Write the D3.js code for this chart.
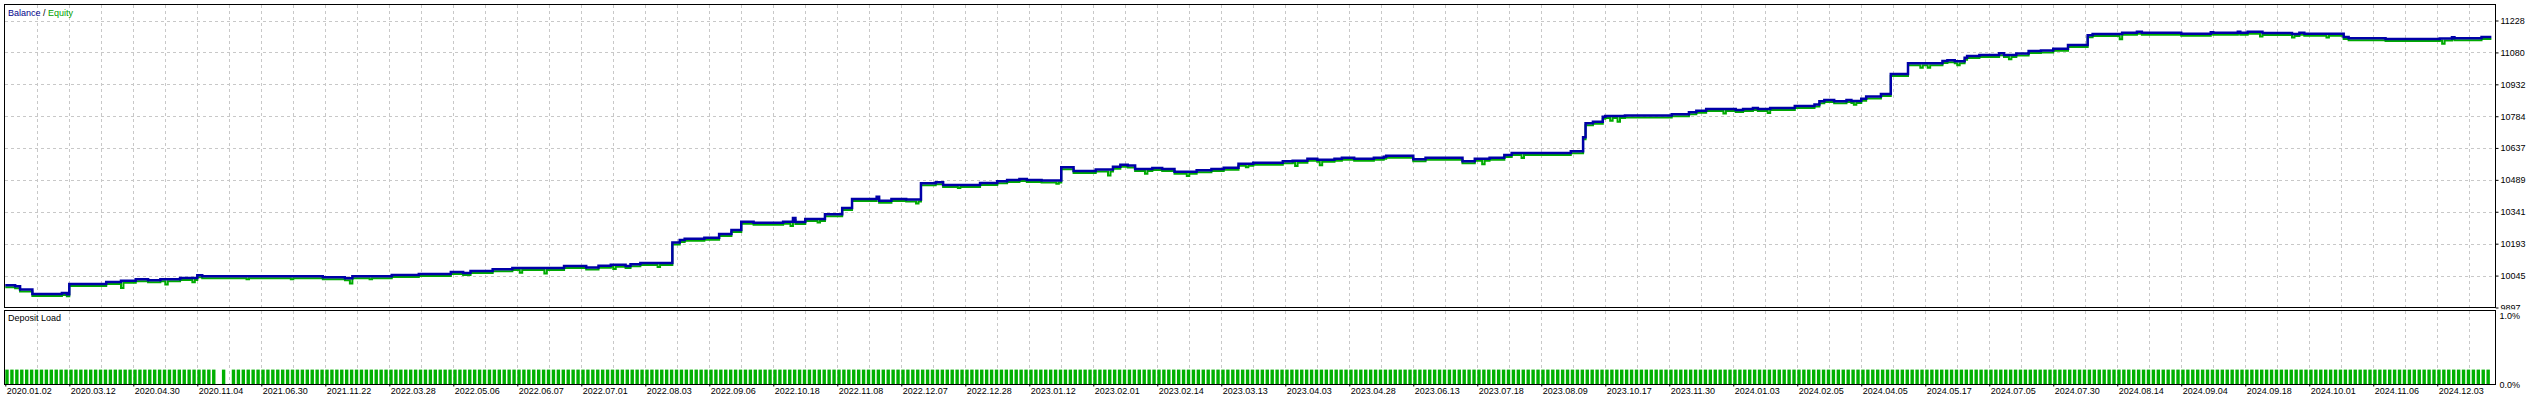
<!DOCTYPE html>
<html>
<head>
<meta charset="utf-8">
<script src="https://cdn.jsdelivr.net/npm/d3@7"></script>
<style>
  body { margin: 0; background: #fff; }
  svg { display: block; }
  text { font-family: "Liberation Sans", Arial, sans-serif; font-size: 9px; fill: #000; }
</style>
</head>
<body>
<svg width="2540" height="401"></svg>
<script>
// balance after each change: [deal number, balance]
var balance = [
  [0,10000],[4,9995],[6,9980],[11,9960],[23,9964],[25,9958],[26,10006],[41,10015],[47,10021],
  [53,10028],[58,10023],[63,10028],[71,10034],[78,10046],[80,10042],[129,10037],[138,10033],
  [141,10042],[157,10048],[168,10052],[181,10062],[186,10057],[189,10066],[198,10074],[206,10080],
  [227,10089],[236,10083],[241,10091],[246,10095],[252,10089],[254,10098],[258,10103],[271,10199],
  [274,10210],[276,10216],[284,10221],[290,10238],[295,10256],[299,10295],[304,10290],[316,10295],
  [320,10312],[321,10294],[325,10307],[333,10330],[340,10358],[344,10400],[354,10411],[355,10392],
  [360,10400],[366,10398],[372,10473],[378,10478],[381,10465],[396,10474],[403,10482],[407,10488],
  [412,10493],[415,10488],[421,10486],[429,10548],[434,10530],[443,10537],[450,10550],[453,10559],
  [456,10555],[459,10539],[466,10544],[470,10539],[475,10527],[484,10534],[490,10539],[495,10545],
  [501,10564],[507,10568],[519,10575],[523,10578],[529,10587],[533,10582],[540,10587],[543,10592],
  [548,10587],[556,10592],[560,10596],[561,10601],[572,10585],[577,10592],[592,10575],[597,10587],
  [603,10592],[609,10604],[612,10613],[636,10622],[641,10686],[642,10752],[645,10758],[649,10782],
  [650,10785],[658,10788],[677,10793],[684,10803],[687,10809],[691,10817],[703,10813],[706,10817],
  [710,10822],[712,10817],[717,10822],[727,10831],[735,10839],[737,10853],[739,10859],[743,10854],
  [748,10859],[750,10855],[754,10865],[756,10876],[762,10887],[766,10980],[773,11030],[787,11040],
  [789,11044],[792,11039],[796,11055],[797,11063],[802,11068],[810,11076],[812,11068],[817,11075],
  [822,11086],[827,11089],[832,11097],[838,11114],[846,11160],[848,11165],[860,11171],[866,11176],
  [868,11171],[884,11167],[896,11173],[897,11171],[907,11176],[908,11171],[911,11176],[917,11170],
  [929,11165],[932,11171],[934,11167],[950,11152],[952,11146],[967,11142],[989,11144],[994,11150],
  [995,11146],[1006,11152],[1010,11152]
];

// floating equity drawdowns: [deal number, equity]
var equityDips = [
  [47,9997],[65,10013],[76,10023],[98,10037],[116,10037],[140,10018],[148,10037],[209,10068],
  [219,10064],[247,10085],[265,10094],[319,10284],[330,10300],[370,10389],[387,10460],[427,10480],
  [448,10519],[463,10527],[480,10516],[504,10557],[524,10562],[534,10566],[600,10571],[616,10600],
  [652,10772],[655,10768],[698,10806],[716,10808],[751,10846],[778,11018],[781,11018],[793,11030],
  [814,11058],[859,11150],[916,11163],[929,11158],[943,11158],[990,11129]
];

// deposit load runs: [first deal, last deal, load %]
var loadRuns = [[0,84,0.2],[88,88,0.2],[92,1008,0.2]];

var yTicks = [9897,10045,10193,10341,10489,10637,10784,10932,11080,11228];
var loadTicks = [0, 1];
var dateLabels = [
  "2020.01.02","2020.03.12","2020.04.30","2020.11.04","2021.06.30","2021.11.22","2022.03.28",
  "2022.05.06","2022.06.07","2022.07.01","2022.08.03","2022.09.06","2022.10.18","2022.11.08",
  "2022.12.07","2022.12.28","2023.01.12","2023.02.01","2023.02.14","2023.03.13","2023.04.03",
  "2023.04.28","2023.06.13","2023.07.18","2023.08.09","2023.10.17","2023.11.30","2024.01.03",
  "2024.02.05","2024.04.05","2024.05.17","2024.07.05","2024.07.30","2024.08.14","2024.09.04",
  "2024.09.18","2024.10.01","2024.11.06","2024.12.03"
];
var dealsTotal = 1012, labelEvery = 26, gridEvery = 13;

var svg = d3.select("svg");
var left = 4.5, right = 2495.5;
var mainTop = 4.5, mainBottom = 307.5;
var subTop = 310.5, subBottom = 384.5;

var x = d3.scaleLinear().domain([0, dealsTotal]).range([5.3, 2496.3]);
var y = d3.scaleLinear().domain([9897, 11228]).range([307.5, 20.5]);
var yl = d3.scaleLinear().domain([0, 1]).range([384, 312]);

svg.append("clipPath").attr("id", "mainclip")
  .append("rect").attr("x", left).attr("y", mainTop).attr("width", right - left).attr("height", mainBottom - mainTop);
svg.append("clipPath").attr("id", "axisclip")
  .append("rect").attr("x", 0).attr("y", 0).attr("width", 2540).attr("height", 309.5);

// grid
var gridX = d3.range(gridEvery, dealsTotal, gridEvery);
var grid = svg.append("g")
  .attr("stroke", "#c8c8c8")
  .attr("stroke-dasharray", "3,3")
  .attr("shape-rendering", "crispEdges");

grid.selectAll("line.gm").data(gridX).enter().append("line")
  .attr("x1", d => Math.round(x(d)) + 0.5).attr("x2", d => Math.round(x(d)) + 0.5)
  .attr("y1", mainTop).attr("y2", mainBottom);
grid.selectAll("line.gs").data(gridX).enter().append("line")
  .attr("x1", d => Math.round(x(d)) + 0.5).attr("x2", d => Math.round(x(d)) + 0.5)
  .attr("y1", subTop).attr("y2", subBottom);
grid.selectAll("line.gh").data(yTicks.slice(1)).enter().append("line")
  .attr("x1", left).attr("x2", right)
  .attr("y1", d => Math.round(y(d)) + 0.5).attr("y2", d => Math.round(y(d)) + 0.5);

// balance / equity
var bal = d3.scaleThreshold()
  .domain(balance.slice(1).map(d => d[0]))
  .range(balance.map(d => d[1]));

var dipDeals = equityDips.map(d => d[0]);
var balDeals = balance.map(d => d[0]);
var equity = balance.filter(d => dipDeals.indexOf(d[0]) < 0).slice();
equityDips.forEach(function(d) {
  equity.push(d);
  if (balDeals.indexOf(d[0] + 1) < 0 && dipDeals.indexOf(d[0] + 1) < 0) equity.push([d[0] + 1, bal(d[0] + 1)]);
});
equity.sort((a, b) => a[0] - b[0]);

var line = d3.line()
  .x(d => x(d[0]))
  .y(d => y(d[1]))
  .curve(d3.curveStepAfter);

var plot = svg.append("g").attr("clip-path", "url(#mainclip)");
plot.append("path")
  .datum(equity)
  .attr("fill", "none")
  .attr("stroke", "#00aa00")
  .attr("stroke-width", 2)
  .attr("transform", "translate(0,2)")
  .attr("d", line);
plot.append("path")
  .datum(balance)
  .attr("fill", "none")
  .attr("stroke", "#0000a8")
  .attr("stroke-width", 2.5)
  .attr("d", line);

// deposit load bars
var bars = [];
loadRuns.forEach(function(r) {
  d3.range(r[0], r[1] + 1, 2).forEach(d => bars.push([d, r[2]]));
});
svg.append("g").selectAll("rect").data(bars).enter().append("rect")
  .attr("x", d => x(d[0]))
  .attr("width", 3.4)
  .attr("y", d => yl(d[1]))
  .attr("height", d => yl(0) - yl(d[1]))
  .attr("fill", "#00b000");

// frames
var frames = svg.append("g").attr("fill", "none").attr("stroke", "#000").attr("shape-rendering", "crispEdges");
frames.append("rect").attr("x", left).attr("y", mainTop).attr("width", right - left).attr("height", mainBottom - mainTop);
frames.append("rect").attr("x", left).attr("y", subTop).attr("width", right - left).attr("height", subBottom - subTop);

// right axis of the balance pane
var yAxis = svg.append("g")
  .attr("transform", "translate(" + right + ",0)")
  .attr("clip-path", "url(#axisclip)")
  .call(d3.axisRight(y).tickValues(yTicks).tickSize(3).tickPadding(2).tickFormat(d => d));
yAxis.select(".domain").remove();
yAxis.selectAll("text").attr("font-family", null).attr("font-size", null);

// right axis of the load pane
var lAxis = svg.append("g").attr("transform", "translate(" + right + ",0)");
lAxis.selectAll("text").data(loadTicks).enter().append("text")
  .attr("x", 4)
  .attr("y", d => d == 1 ? yl(d) + 7 : yl(d) + 4)
  .text(d => d.toFixed(1) + "%");

// bottom axis with dates
var xAxis = svg.append("g")
  .attr("transform", "translate(0," + subBottom + ")")
  .call(d3.axisBottom(x).tickValues(d3.range(0, dealsTotal, labelEvery)).tickSize(2).tickPadding(1)
    .tickFormat((d, i) => dateLabels[i]));
xAxis.select(".domain").remove();
xAxis.selectAll("text").attr("font-family", null).attr("font-size", null)
  .attr("text-anchor", "start").attr("dx", 1);

// pane captions
var cap = svg.append("text").attr("x", 8).attr("y", 16);
cap.append("tspan").attr("fill", "#00008b").text("Balance");
cap.append("tspan").text(" / ");
cap.append("tspan").attr("fill", "#00a000").text("Equity");
svg.append("text").attr("x", 8).attr("y", 321).text("Deposit Load");
</script>
</body>
</html>
